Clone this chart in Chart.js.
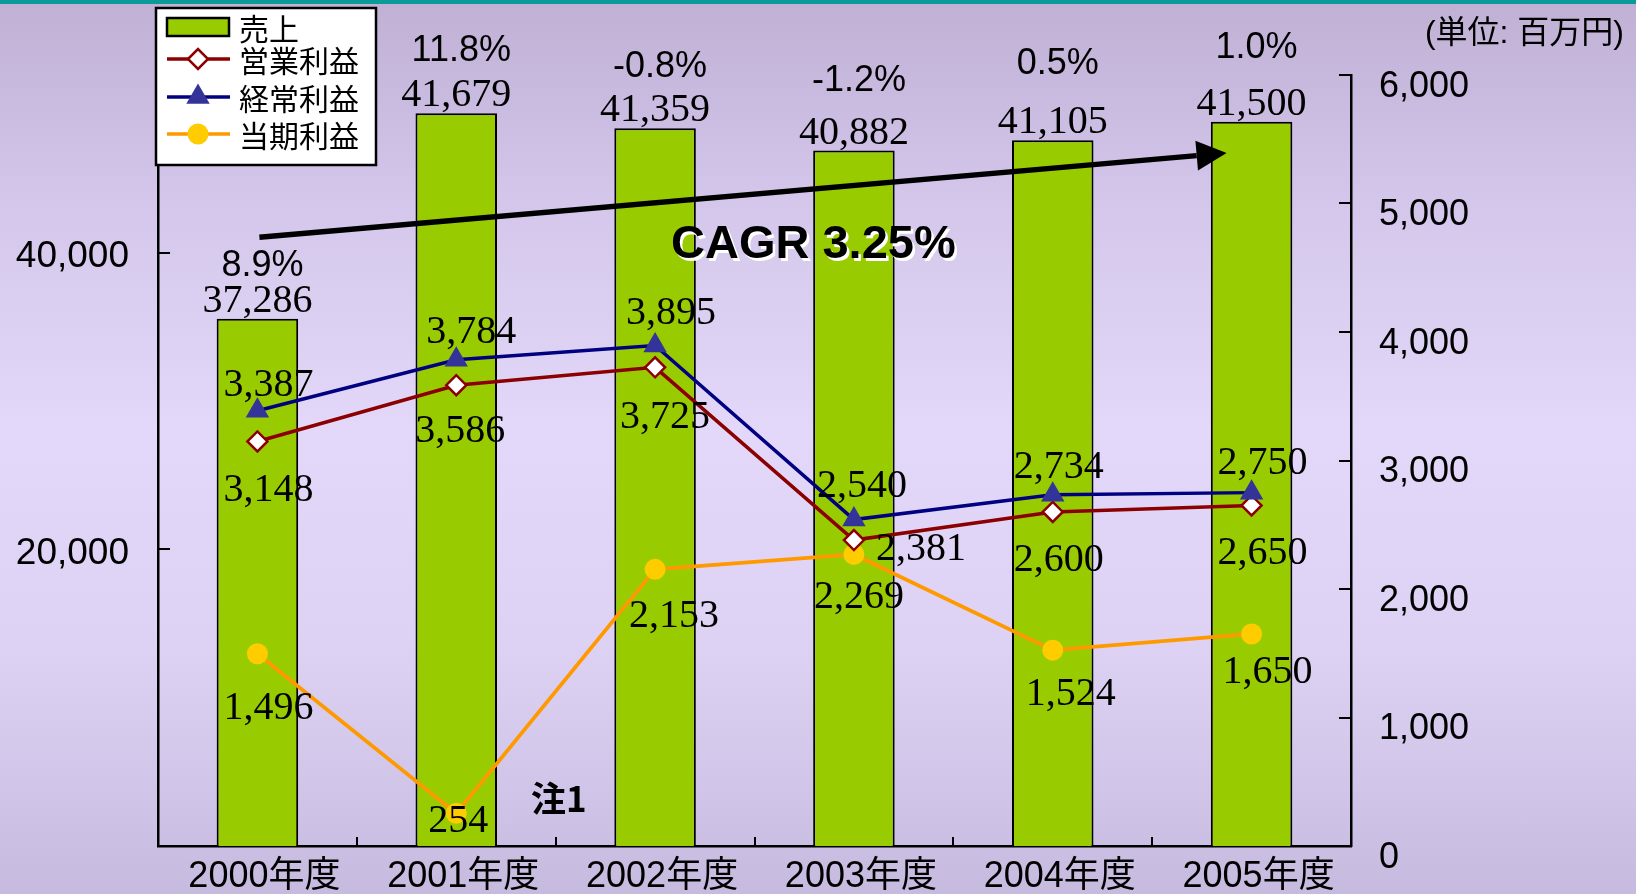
<!DOCTYPE html>
<html><head><meta charset="utf-8">
<script src="https://cdn.jsdelivr.net/npm/chart.js@4.4.0/dist/chart.umd.min.js"></script>
<style>
html,body{margin:0;padding:0;width:1636px;height:894px;overflow:hidden;}
body{background:linear-gradient(to bottom,#bfb0d4 0%,#d3c6ea 22%,#e3d8f9 48%,#ddd2f4 72%,#c7badf 100%);}
#topbar{position:absolute;left:0;top:0;width:1636px;height:4px;background:#0a9a98;}
#wrap{position:absolute;left:0;top:0;width:1636px;height:894px;}
</style></head><body>
<div id="topbar"></div>
<div id="wrap"><canvas id="c"></canvas></div>
<script>
// ---- data ----
const categories = ['2000年度', '2001年度', '2002年度', '2003年度', '2004年度', '2005年度'];
const sales = [37286, 41679, 41359, 40882, 41105, 41500];
const salesGrowth = ['8.9%', '11.8%', '-0.8%', '-1.2%', '0.5%', '1.0%'];
const operatingProfit = [3148, 3586, 3725, 2381, 2600, 2650];
const ordinaryProfit = [3387, 3784, 3895, 2540, 2734, 2750];
const netProfit = [1496, 254, 2153, 2269, 1524, 1650];
const leftTickValues = [20000, 40000];
const seriesNames = ['売上', '営業利益', '経常利益', '当期利益'];
const unitText = '(単位: 百万円)';
const cagrText = 'CAGR 3.25%';
const noteText = '注1';

// ---- styles ----
const SANS = '"Liberation Sans", Arial, "Noto Sans CJK JP", sans-serif';
const SERIF = '"Liberation Serif", "Times New Roman", serif';
const CJK = '"Noto Sans CJK JP", "Liberation Sans", sans-serif';
const fmt = v => v.toLocaleString('en-US');

// label placement (layout only): dx, dy of label centre relative to the point
const labelPlacement = {
  1: [[11,49],[4,46],[10,50],[67,9],[6,49],[11,48]],
  2: [[11,-25],[15,-27],[16,-32],[8,-33],[6,-27],[11,-29]],
  3: [[11,55],[2,8],[19,47],[5,43],[18,44],[16,39]]
};
// growth label baseline offset above bar top (layout only)
const growthLabelDy = [-43, -52, -51, -60, -66, -64];

const axisTicks = {
  id: 'axisTicks',
  afterDatasetsDraw(chart) {
    const ctx = chart.ctx, a = chart.chartArea;
    const xs = chart.scales.x, yL = chart.scales.yL, y2 = chart.scales.y2;
    ctx.save();
    ctx.strokeStyle = '#000'; ctx.lineWidth = 2;
    ctx.beginPath();
    yL.ticks.forEach(t => { const p = Math.round(yL.getPixelForValue(t.value)); ctx.moveTo(a.left, p); ctx.lineTo(a.left + 12, p); });
    y2.ticks.forEach(t => { const p = Math.round(y2.getPixelForValue(t.value)); ctx.moveTo(a.right, p); ctx.lineTo(a.right - 12, p); });
    for (let i = 1; i < categories.length; i++) {
      const p = Math.round((xs.getPixelForValue(i - 1) + xs.getPixelForValue(i)) / 2);
      ctx.moveTo(p, a.bottom); ctx.lineTo(p, a.bottom - 9);
    }
    ctx.stroke();
    ctx.restore();
  }
};

const annotations = {
  id: 'annotations',
  afterDatasetsDraw(chart) {
    const ctx = chart.ctx, a = chart.chartArea;
    const xs = chart.scales.x, yB = chart.scales.yB;
    ctx.save();
    // CAGR arrow
    const x0 = xs.getPixelForValue(0) + 2, y0 = yB.getPixelForValue(39030);
    const x1 = xs.getPixelForValue(5) - 25, y1 = yB.getPixelForValue(40830);
    const ang = Math.atan2(y1 - y0, x1 - x0), hl = 30, hw = 15;
    const bx = x1 - hl * Math.cos(ang), by = y1 - hl * Math.sin(ang);
    ctx.strokeStyle = '#000'; ctx.fillStyle = '#000'; ctx.lineWidth = 5.5;
    ctx.beginPath(); ctx.moveTo(x0, y0); ctx.lineTo(bx, by); ctx.stroke();
    ctx.beginPath();
    ctx.moveTo(x1, y1);
    ctx.lineTo(bx + hw * Math.sin(ang), by - hw * Math.cos(ang));
    ctx.lineTo(bx - hw * Math.sin(ang), by + hw * Math.cos(ang));
    ctx.closePath(); ctx.fill();

    // bar labels
    const bm = chart.getDatasetMeta(0);
    ctx.textAlign = 'center'; ctx.textBaseline = 'alphabetic'; ctx.fillStyle = '#000';
    bm.data.forEach((el, i) => {
      ctx.font = '40px ' + SERIF;
      ctx.fillText(fmt(sales[i]), el.x, el.y - 7);
      ctx.font = '36px ' + SANS;
      ctx.fillText(salesGrowth[i], el.x + 5, el.y + growthLabelDy[i]);
    });

    // line labels
    ctx.font = '40px ' + SERIF; ctx.textBaseline = 'middle';
    [1, 2, 3].forEach(di => {
      const meta = chart.getDatasetMeta(di);
      const vals = chart.data.datasets[di].data;
      meta.data.forEach((el, i) => {
        const o = labelPlacement[di][i];
        ctx.fillText(fmt(vals[i]), el.x + o[0], el.y + o[1]);
      });
    });

    // CAGR text with white shadow
    ctx.font = 'bold 47px ' + SANS; ctx.textAlign = 'left'; ctx.textBaseline = 'alphabetic';
    const cx = a.left + 513, cy = a.top + 183;
    ctx.fillStyle = '#fff'; ctx.fillText(cagrText, cx + 2.5, cy + 2.5);
    ctx.fillStyle = '#000'; ctx.fillText(cagrText, cx, cy);

    // note
    ctx.font = 'bold 35px ' + CJK;
    ctx.fillText(noteText, a.left + 373, a.bottom - 34);

    // unit
    ctx.font = '32px ' + SANS; ctx.textAlign = 'right'; ctx.textBaseline = 'middle';
    ctx.fillText(unitText, 1624, 34);

    // legend
    const lx = 156, ly = 8, lw = 220, lh = 157;
    ctx.fillStyle = '#fff'; ctx.fillRect(lx, ly, lw, lh);
    ctx.strokeStyle = '#000'; ctx.lineWidth = 2.5; ctx.strokeRect(lx, ly, lw, lh);
    const rows = [27, 59, 97, 134];
    const ds = chart.data.datasets;
    ctx.fillStyle = ds[0].backgroundColor; ctx.fillRect(167, 18, 62, 18);
    ctx.lineWidth = 2.5; ctx.strokeStyle = '#000'; ctx.strokeRect(167, 18, 62, 18);
    for (let k = 1; k <= 3; k++) {
      const y = rows[k], d = ds[k];
      ctx.strokeStyle = d.borderColor; ctx.lineWidth = 3.5;
      ctx.beginPath(); ctx.moveTo(167, y); ctx.lineTo(230, y); ctx.stroke();
      const mx = 198;
      ctx.fillStyle = d.pointBackgroundColor; ctx.strokeStyle = d.pointBorderColor; ctx.lineWidth = d.pointBorderWidth;
      ctx.beginPath();
      if (d.pointStyle === 'rectRot') {
        const r = 10; ctx.moveTo(mx - r, y); ctx.lineTo(mx, y - r); ctx.lineTo(mx + r, y); ctx.lineTo(mx, y + r); ctx.closePath();
        ctx.fill(); ctx.stroke();
      } else if (d.pointStyle === 'triangle') {
        const r = 13.5; ctx.moveTo(mx, y - r); ctx.lineTo(mx + r * 0.866, y + r * 0.5); ctx.lineTo(mx - r * 0.866, y + r * 0.5); ctx.closePath();
        ctx.fill();
      } else {
        ctx.arc(mx, y, 10.5, 0, Math.PI * 2); ctx.fill();
      }
    }
    ctx.fillStyle = '#000'; ctx.font = '30px ' + CJK; ctx.textAlign = 'left'; ctx.textBaseline = 'middle';
    seriesNames.forEach((n, k) => ctx.fillText(n, 239, rows[k] + 2));
    ctx.restore();
  }
};

new Chart(document.getElementById('c'), {
  data: {
    labels: categories,
    datasets: [
      { type: 'bar', label: seriesNames[0], data: sales, yAxisID: 'yB', order: 4,
        backgroundColor: '#99cc00', borderColor: '#000', borderWidth: 2,
        barPercentage: 0.41, categoryPercentage: 1 },
      { type: 'line', label: seriesNames[1], data: operatingProfit, yAxisID: 'y2', order: 2,
        borderColor: '#8b0000', borderWidth: 3.5, tension: 0,
        pointStyle: 'rectRot', pointRadius: 10, pointBackgroundColor: '#fff', pointBorderColor: '#8b0000', pointBorderWidth: 2.5 },
      { type: 'line', label: seriesNames[2], data: ordinaryProfit, yAxisID: 'y2', order: 1,
        borderColor: '#000080', borderWidth: 3.5, tension: 0,
        pointStyle: 'triangle', pointRadius: 13.5, pointBackgroundColor: '#333399', pointBorderColor: '#333399', pointBorderWidth: 0 },
      { type: 'line', label: seriesNames[3], data: netProfit, yAxisID: 'y2', order: 3,
        borderColor: '#ff9900', borderWidth: 3.8, tension: 0,
        pointStyle: 'circle', pointRadius: 10.5, pointBackgroundColor: '#ffcc00', pointBorderColor: '#ffcc00', pointBorderWidth: 0 }
    ]
  },
  options: {
    responsive: true, maintainAspectRatio: false, animation: false, events: [],
    layout: { padding: { top: 75, left: 0, right: 0, bottom: 0 } },
    plugins: { legend: { display: false }, tooltip: { enabled: false } },
    scales: {
      x: {
        position: 'bottom',
        grid: { display: false },
        border: { display: true, color: '#000', width: 2.5 },
        ticks: { color: '#000', font: { family: SANS, size: 36 }, padding: 1, labelOffset: 7, maxRotation: 0, autoSkip: false },
        afterFit: s => { s.height = 48; }
      },
      yB: { display: false, min: 26000, max: 42500 },
      yL: {
        position: 'left', min: 0, max: 52000,
        grid: { display: false },
        border: { display: true, color: '#000', width: 2.5 },
        afterBuildTicks: s => { s.ticks = leftTickValues.map(v => ({ value: v })); },
        ticks: { color: '#000', font: { family: SANS, size: 37 }, padding: 21, labelOffset: 4, callback: v => fmt(v) },
        afterFit: s => { s.width = 158; }
      },
      y2: {
        position: 'right', min: 0, max: 6000,
        grid: { display: false },
        border: { display: true, color: '#000', width: 2.5 },
        ticks: { stepSize: 1000, color: '#000', font: { family: SANS, size: 36 }, padding: 20, labelOffset: 12, callback: v => fmt(v) },
        afterFit: s => { s.width = 285; }
      }
    }
  },
  plugins: [axisTicks, annotations]
});
</script>
</body></html>
